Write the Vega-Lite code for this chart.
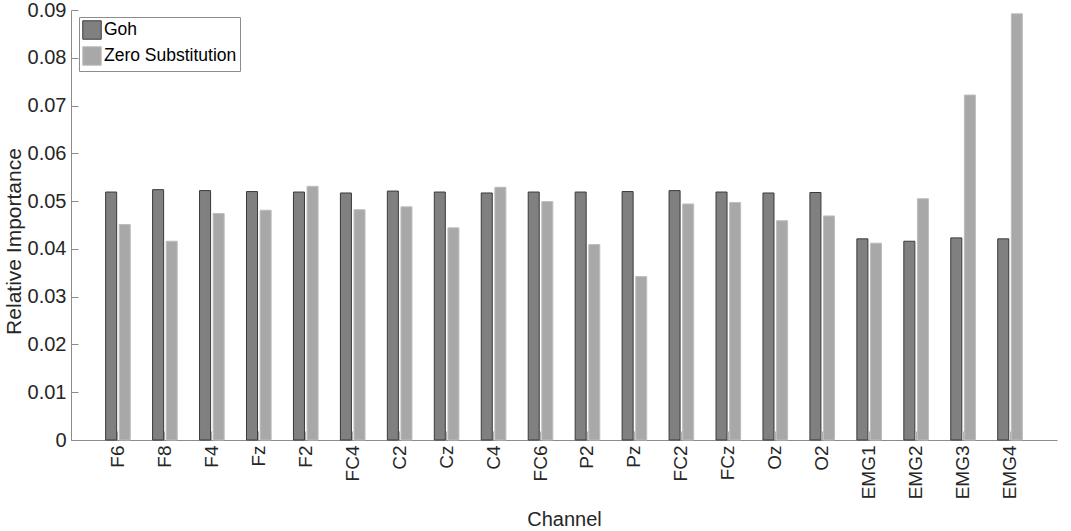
{
  "$schema": "https://vega.github.io/schema/vega-lite/v6.json",
  "width": 986,
  "height": 430,
  "autosize": {"type": "none"},
  "padding": {"left": 71, "top": 10, "right": 14, "bottom": 91},
  "background": "white",
  "config": {
    "view": {"stroke": null},
    "font": "Liberation Sans",
    "axis": {"labelFont": "Liberation Sans", "titleFont": "Liberation Sans", "labelColor": "#262626", "titleColor": "#262626", "domainColor": "#8c8c8c", "tickColor": "#8c8c8c", "grid": false, "titleFontWeight": "normal"}
  },
  "data": {
    "values": [
      {"channel": "F6", "method": "Goh", "value": 0.0519},
      {"channel": "F6", "method": "Zero Substitution", "value": 0.0451},
      {"channel": "F8", "method": "Goh", "value": 0.0524},
      {"channel": "F8", "method": "Zero Substitution", "value": 0.0416},
      {"channel": "F4", "method": "Goh", "value": 0.0522},
      {"channel": "F4", "method": "Zero Substitution", "value": 0.0474},
      {"channel": "Fz", "method": "Goh", "value": 0.0520},
      {"channel": "Fz", "method": "Zero Substitution", "value": 0.0481},
      {"channel": "F2", "method": "Goh", "value": 0.0519},
      {"channel": "F2", "method": "Zero Substitution", "value": 0.0531},
      {"channel": "FC4", "method": "Goh", "value": 0.0517},
      {"channel": "FC4", "method": "Zero Substitution", "value": 0.0482},
      {"channel": "C2", "method": "Goh", "value": 0.0521},
      {"channel": "C2", "method": "Zero Substitution", "value": 0.0488},
      {"channel": "Cz", "method": "Goh", "value": 0.0519},
      {"channel": "Cz", "method": "Zero Substitution", "value": 0.0444},
      {"channel": "C4", "method": "Goh", "value": 0.0517},
      {"channel": "C4", "method": "Zero Substitution", "value": 0.0529},
      {"channel": "FC6", "method": "Goh", "value": 0.0519},
      {"channel": "FC6", "method": "Zero Substitution", "value": 0.0499},
      {"channel": "P2", "method": "Goh", "value": 0.0519},
      {"channel": "P2", "method": "Zero Substitution", "value": 0.0409},
      {"channel": "Pz", "method": "Goh", "value": 0.0520},
      {"channel": "Pz", "method": "Zero Substitution", "value": 0.0342},
      {"channel": "FC2", "method": "Goh", "value": 0.0522},
      {"channel": "FC2", "method": "Zero Substitution", "value": 0.0494},
      {"channel": "FCz", "method": "Goh", "value": 0.0519},
      {"channel": "FCz", "method": "Zero Substitution", "value": 0.0497},
      {"channel": "Oz", "method": "Goh", "value": 0.0517},
      {"channel": "Oz", "method": "Zero Substitution", "value": 0.0459},
      {"channel": "O2", "method": "Goh", "value": 0.0518},
      {"channel": "O2", "method": "Zero Substitution", "value": 0.0469},
      {"channel": "EMG1", "method": "Goh", "value": 0.0421},
      {"channel": "EMG1", "method": "Zero Substitution", "value": 0.0412},
      {"channel": "EMG2", "method": "Goh", "value": 0.0416},
      {"channel": "EMG2", "method": "Zero Substitution", "value": 0.0505},
      {"channel": "EMG3", "method": "Goh", "value": 0.0423},
      {"channel": "EMG3", "method": "Zero Substitution", "value": 0.0722},
      {"channel": "EMG4", "method": "Goh", "value": 0.0421},
      {"channel": "EMG4", "method": "Zero Substitution", "value": 0.0892}
    ]
  },
  "mark": {"type": "bar", "strokeWidth": 1},
  "encoding": {
    "x": {
      "field": "channel",
      "type": "nominal",
      "sort": ["F6","F8","F4","Fz","F2","FC4","C2","Cz","C4","FC6","P2","Pz","FC2","FCz","Oz","O2","EMG1","EMG2","EMG3","EMG4"],
      "scale": {"paddingInner": 0, "paddingOuter": 0.5},
      "axis": {"title": "Channel", "labelAngle": 270, "labelFontSize": 19, "titleFontSize": 20, "tickSize": -9, "labelPadding": 14, "titlePadding": 11, "tickColor": "#b0b0b0"}
    },
    "xOffset": {
      "field": "method",
      "type": "nominal",
      "scale": {"paddingInner": 0.19, "paddingOuter": 0.82}
    },
    "y": {
      "field": "value",
      "type": "quantitative",
      "scale": {"domain": [0, 0.09], "nice": false, "zero": true},
      "axis": {"title": "Relative Importance", "values": [0,0.01,0.02,0.03,0.04,0.05,0.06,0.07,0.08,0.09], "format": ".2~f", "labelFontSize": 20, "titleFontSize": 21, "tickSize": -7, "labelPadding": 12, "titlePadding": 3, "titleY": 231}
    },
    "fill": {
      "field": "method",
      "type": "nominal",
      "scale": {"domain": ["Goh", "Zero Substitution"], "range": ["#808080", "#a8a8a8"]},
      "legend": {
        "title": null,
        "orient": "none",
        "legendX": 8,
        "legendY": 7,
        "symbolType": "square",
        "symbolSize": 340,
        "symbolStrokeWidth": 1,
        "labelFontSize": 17.5,
        "labelFont": "Liberation Sans",
        "labelColor": "#000000",
        "rowPadding": 2,
        "padding": 3,
        "strokeColor": "#8c8c8c",
        "fillColor": "white",
        "labelOffset": 2
      }
    },
    "stroke": {
      "field": "method",
      "type": "nominal",
      "scale": {"domain": ["Goh", "Zero Substitution"], "range": ["#3a3a3a", "#bdbdbd"]},
      "legend": null
    }
  }
}
